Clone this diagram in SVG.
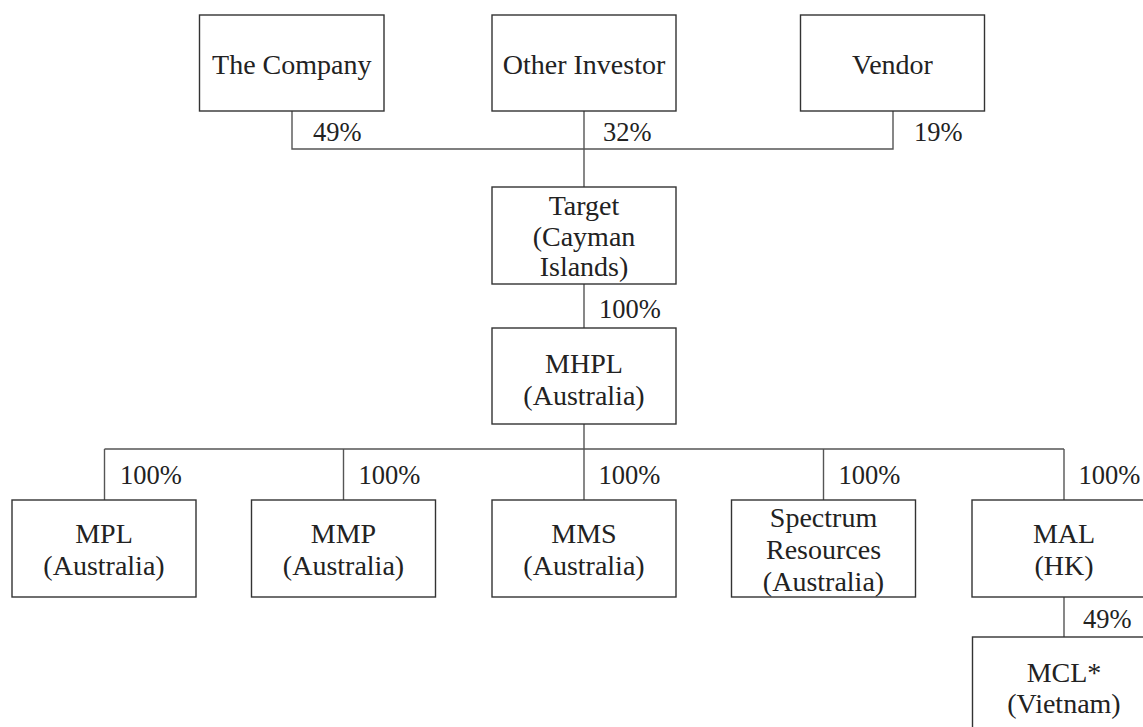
<svg xmlns="http://www.w3.org/2000/svg" width="1143" height="727" viewBox="0 0 1143 727">
<style>
.box{fill:#fff;stroke:#333;stroke-width:1.4}
.ln{fill:none;stroke:#555;stroke-width:1.4}
text{font-family:"Liberation Serif","Times New Roman",serif;font-size:28px;fill:#222}
.c{text-anchor:middle}
.p{font-size:26.5px}
</style>
<rect width="1143" height="727" fill="#fff"/>
<g id="connectors">
<polyline class="ln" points="292,111 292,149 893,149 893,111"/>
<line class="ln" x1="584" y1="111" x2="584" y2="187"/>
<line class="ln" x1="584" y1="284" x2="584" y2="328"/>
<line class="ln" x1="584" y1="424" x2="584" y2="449"/>
<line class="ln" x1="104.5" y1="449" x2="1064" y2="449"/>
<line class="ln" x1="104.5" y1="449" x2="104.5" y2="500"/>
<line class="ln" x1="343.5" y1="449" x2="343.5" y2="500"/>
<line class="ln" x1="584" y1="449" x2="584" y2="500"/>
<line class="ln" x1="823.5" y1="449" x2="823.5" y2="500"/>
<line class="ln" x1="1064" y1="449" x2="1064" y2="500"/>
<line class="ln" x1="1064" y1="597" x2="1064" y2="637"/>
<text class="p" x="313" y="141">49%</text>
<text class="p" x="603" y="141">32%</text>
<text class="p" x="914" y="141">19%</text>
<text class="p" x="599" y="318">100%</text>
<text class="p" x="120" y="484">100%</text>
<text class="p" x="358.5" y="484">100%</text>
<text class="p" x="598.5" y="484">100%</text>
<text class="p" x="838.5" y="484">100%</text>
<text class="p" x="1078.5" y="484">100%</text>
<text class="p" x="1083" y="628">49%</text>
</g>
<g id="company"><rect class="box" x="199.5" y="15" width="184.5" height="96"/><text class="c" x="291.75" y="74">The Company</text></g>
<g id="other-investor"><rect class="box" x="492" y="15" width="184" height="96"/><text class="c" x="584" y="74">Other Investor</text></g>
<g id="vendor"><rect class="box" x="800.5" y="15" width="184" height="96"/><text class="c" x="892.5" y="74">Vendor</text></g>
<g id="target"><rect class="box" x="492" y="187" width="184" height="97"/><text class="c" x="584" y="215">Target</text><text class="c" x="584" y="246">(Cayman</text><text class="c" x="584" y="276">Islands)</text></g>
<g id="mhpl"><rect class="box" x="492" y="328" width="184" height="96"/><text class="c" x="584" y="373">MHPL</text><text class="c" x="584" y="405">(Australia)</text></g>
<g id="mpl"><rect class="box" x="12" y="500" width="184" height="97"/><text class="c" x="104" y="543">MPL</text><text class="c" x="104" y="575">(Australia)</text></g>
<g id="mmp"><rect class="box" x="251.5" y="500" width="184" height="97"/><text class="c" x="343.5" y="543">MMP</text><text class="c" x="343.5" y="575">(Australia)</text></g>
<g id="mms"><rect class="box" x="492" y="500" width="184" height="97"/><text class="c" x="584" y="543">MMS</text><text class="c" x="584" y="575">(Australia)</text></g>
<g id="spectrum"><rect class="box" x="731.5" y="500" width="184" height="97"/><text class="c" x="823.5" y="527">Spectrum</text><text class="c" x="823.5" y="558.5">Resources</text><text class="c" x="823.5" y="590.5">(Australia)</text></g>
<g id="mal"><rect class="box" x="972" y="500" width="184" height="97"/><text class="c" x="1064" y="543">MAL</text><text class="c" x="1064" y="575">(HK)</text></g>
<g id="mcl"><rect class="box" x="972.5" y="637" width="184" height="97"/><text class="c" x="1064" y="681.5">MCL*</text><text class="c" x="1064" y="713">(Vietnam)</text></g>
</svg>
